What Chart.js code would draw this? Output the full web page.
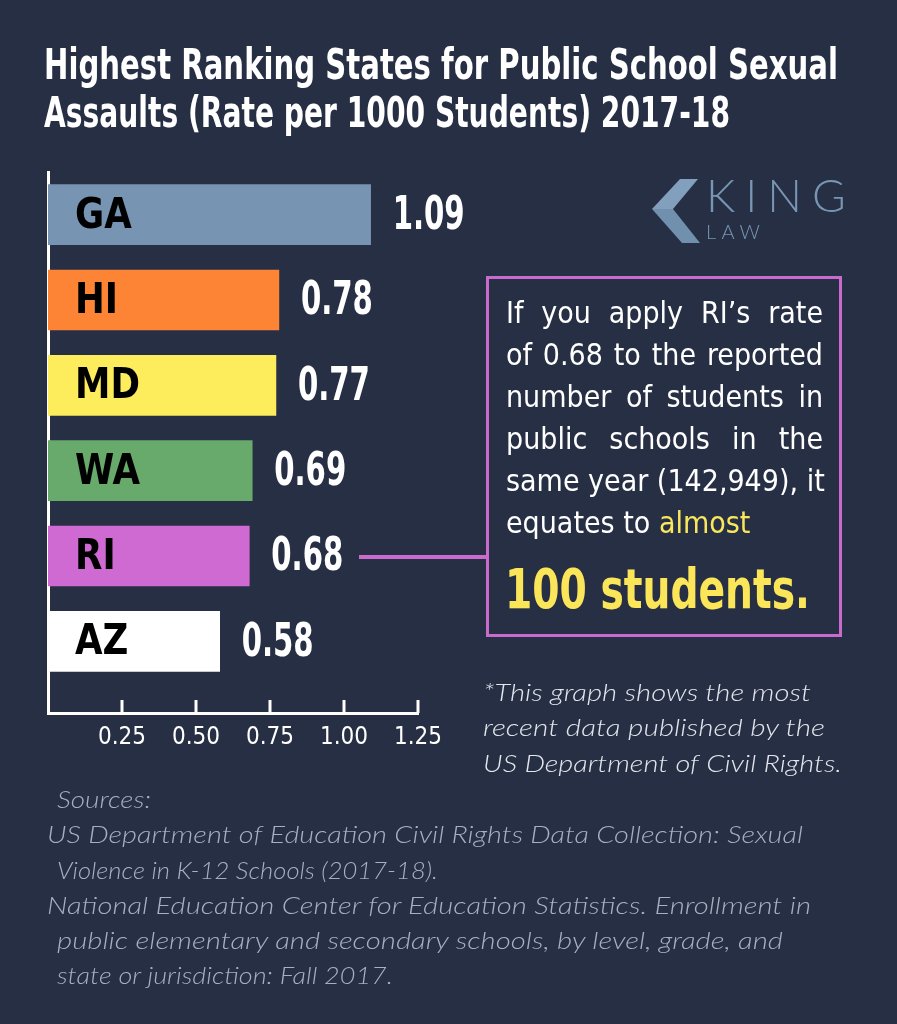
<!DOCTYPE html>
<html>
<head>
<meta charset="utf-8">
<script src="https://cdn.jsdelivr.net/npm/chart.js@4/dist/chart.umd.min.js"></script>
<style>
  body { margin: 0; background: #272f44; width: 897px; height: 1024px; overflow: hidden; position: relative; }
  #chart { position: absolute; left: 0; top: 0; }
  .narrow { font-family: "DejaVu Sans Condensed", "Liberation Sans", sans-serif; }
  [data-w] { display: inline-block; transform-origin: 0 0; white-space: nowrap; }
  #title { position: absolute; left: 44px; top: 41px; color: #fff; font-size: 42px; font-weight: bold; line-height: 48px; white-space: nowrap; }
  #logo { position: absolute; left: 0; top: 0; }
  #callout { position: absolute; left: 486px; top: 276px; width: 350px; height: 355px; border: 3px solid #c96acd; }
  #connector { position: absolute; left: 359px; top: 555px; width: 128px; height: 4px; background: #c96acd; }
  #calloutText { position: absolute; left: 506px; top: 292px; width: 317px; color: #fff; font-size: 30px; line-height: 42px; }
  #calloutText div { text-align: justify; text-align-last: justify; white-space: nowrap; }
  #calloutText div.last { text-align: left; text-align-last: left; }
  .yellow { color: #f8e65c; }
  #big { position: absolute; left: 505px; top: 561px; color: #fbe65a; font-size: 56px; font-weight: bold; line-height: 56px; white-space: nowrap; }
  .italic { font-family: Lato, "Open Sans", sans-serif; font-style: italic; font-weight: 300; }
  #note { position: absolute; left: 483px; top: 675px; color: #e3e6ec; font-size: 23px; line-height: 35.5px; white-space: nowrap; }
  #sources { position: absolute; left: 47px; top: 782px; color: #a7afc0; font-size: 23px; line-height: 35.2px; white-space: nowrap; }
  #note div, #sources div { height: 35.3px; }
  #sources .ind { padding-left: 10px; }
</style>
</head>
<body>
<canvas id="chart" width="897" height="1024"></canvas>

<div id="title" class="narrow">
  <div><span data-w="794">Highest Ranking States for Public School Sexual</span></div>
  <div><span data-w="686">Assaults (Rate per 1000 Students) 2017-18</span></div>
</div>

<svg id="logo" width="897" height="260">
  <polygon points="680,179 698,179 673,209 652,209" fill="#829fbd"/>
  <polygon points="652,209 673,209 700,243 682,243" fill="#7190ae"/>
  <text x="706" y="212" fill="#7895b3" font-family="Lato" font-weight="300" font-size="46" letter-spacing="10">KING</text>
  <text x="706" y="239" fill="#7895b3" font-family="Lato" font-weight="300" font-size="20" letter-spacing="5.5">LAW</text>
</svg>

<div id="connector"></div>
<div id="callout"></div>
<div id="calloutText" class="narrow">
  <div>If you apply RI’s rate</div>
  <div>of 0.68 to the reported</div>
  <div>number of students in</div>
  <div>public schools in the</div>
  <div>same year (142,949), it</div>
  <div class="last">equates to <span class="yellow">almost</span></div>
</div>
<div id="big" class="narrow"><span data-w="305">100 students.</span></div>

<div id="note" class="italic">
  <div><span data-w="328">*This graph shows the most</span></div>
  <div><span data-w="342">recent data published by the</span></div>
  <div><span data-w="359">US Department of Civil Rights.</span></div>
</div>

<div id="sources" class="italic">
  <div class="ind"><span data-w="94">Sources:</span></div>
  <div><span data-w="756">US Department of Education Civil Rights Data Collection: Sexual</span></div>
  <div class="ind"><span data-w="381">Violence in K-12 Schools (2017-18).</span></div>
  <div><span data-w="764">National Education Center for Education Statistics. Enrollment in</span></div>
  <div class="ind"><span data-w="726">public elementary and secondary schools, by level, grade, and</span></div>
  <div class="ind"><span data-w="336">state or jurisdiction: Fall 2017.</span></div>
</div>

<script>
const states = ['GA', 'HI', 'MD', 'WA', 'RI', 'AZ'];
const rates = [1.09, 0.78, 0.77, 0.69, 0.68, 0.58];
const barColors = ['#7794b2', '#fd8434', '#fdec5c', '#68a96c', '#d06ad3', '#ffffff'];
const xTicks = [0.25, 0.5, 0.75, 1, 1.25];

const NARROW = '"DejaVu Sans Condensed", "Liberation Sans", sans-serif';

// squeeze/stretch each text line so it is as wide as in the original
document.querySelectorAll('[data-w]').forEach(function (el) {
    const w = el.getBoundingClientRect().width;
    el.style.transform = 'scaleX(' + (el.dataset.w / w) + ')';
});

function squeezedText(ctx, text, x, y, sx) {
    ctx.save();
    ctx.translate(x, y);
    ctx.scale(sx, 1);
    ctx.fillText(text, 0, 0);
    ctx.restore();
}

// state names inside the bars, values after them
const barLabels = {
    id: 'barLabels',
    afterDatasetsDraw(chart) {
        const ctx = chart.ctx;
        const meta = chart.getDatasetMeta(0);
        ctx.save();
        ctx.textBaseline = 'middle';
        meta.data.forEach(function (bar, i) {
            ctx.fillStyle = '#000';
            ctx.font = 'bold 43px ' + NARROW;
            squeezedText(ctx, states[i], bar.base + 27, bar.y + 2, 0.92);
            ctx.fillStyle = '#fff';
            ctx.font = 'bold 47px ' + NARROW;
            squeezedText(ctx, rates[i].toFixed(2), bar.x + 22, bar.y + 2, 0.69);
        });
        ctx.restore();
    }
};

// little tick marks pointing up from the x axis
const tickMarks = {
    id: 'tickMarks',
    afterDraw(chart) {
        const ctx = chart.ctx;
        const x = chart.scales.x;
        const bottom = chart.chartArea.bottom;
        ctx.save();
        ctx.strokeStyle = '#fff';
        ctx.lineWidth = 3;
        xTicks.forEach(function (v) {
            const px = Math.round(x.getPixelForValue(v));
            ctx.beginPath();
            ctx.moveTo(px, bottom - 13);
            ctx.lineTo(px, bottom);
            ctx.stroke();
        });
        ctx.restore();
    }
};

new Chart(document.getElementById('chart'), {
    type: 'bar',
    data: {
        datasets: [{
            data: rates.map(function (v, i) { return {x: v, y: i}; }),
            backgroundColor: barColors,
            borderWidth: 0,
            barThickness: 60
        }]
    },
    options: {
        indexAxis: 'y',
        responsive: false,
        animation: false,
        layout: {padding: {left: 48, top: 172, right: 479, bottom: 266}},
        plugins: {legend: {display: false}, tooltip: {enabled: false}},
        scales: {
            x: {
                type: 'linear',
                min: 0,
                max: 1.25,
                offset: false,
                afterBuildTicks: function (scale) {
                    scale.ticks = xTicks.map(function (v) { return {value: v}; });
                },
                afterFit: function (scale) { scale.height = 45; },
                grid: {display: false, drawTicks: false},
                border: {color: '#fff', width: 3},
                ticks: {
                    color: '#fff',
                    padding: 10,
                    maxRotation: 0,
                    font: {family: NARROW, size: 24},
                    callback: function (v) { return v.toFixed(2); }
                }
            },
            y: {
                type: 'linear',
                reverse: true,
                offset: false,
                min: -0.5,
                max: 5.84,
                grid: {display: false, drawTicks: false},
                border: {color: '#fff', width: 3},
                ticks: {display: false}
            }
        }
    },
    plugins: [barLabels, tickMarks]
});
</script>
</body>
</html>
